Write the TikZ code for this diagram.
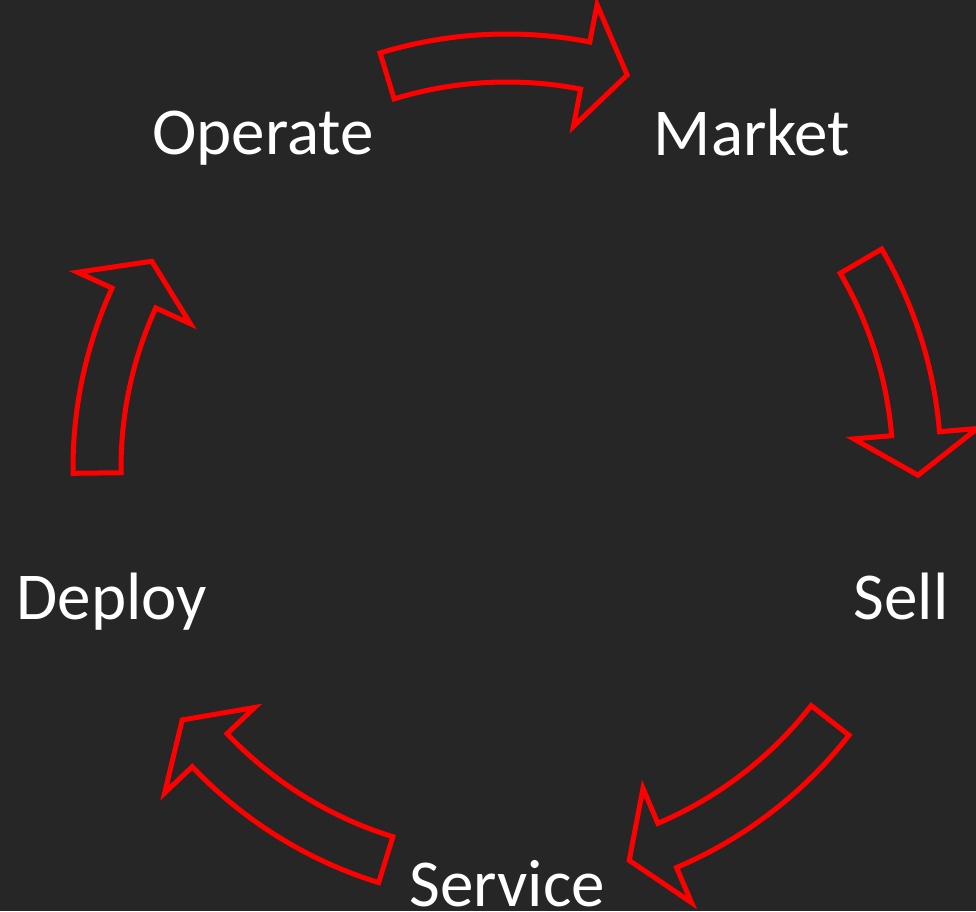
\documentclass[tikz,border=0pt]{standalone}
\usepackage{fontspec}
\setmainfont{Carlito}
\definecolor{bgcol}{HTML}{262626}
\definecolor{arrred}{HTML}{FF0000}
\tikzset{
  lbl/.style={text=white, anchor=base, inner sep=0pt, font=\fontsize{67}{80}\selectfont},
  cyclearrowline/.style={draw=arrred, line width=5pt, line join=miter},
}
% #1 tail angle, #2 head base angle, #3 tip angle
\newcommand\cyclearrow[3]{%
  \draw[cyclearrowline] (#1:434) arc[start angle=#1, end angle=#2, radius=434]
    -- (#2:472) -- (#3:411) -- (#2:348) -- (#2:386)
    arc[start angle=#2, end angle=#1, radius=386] -- cycle;}
\begin{document}
\begin{tikzpicture}[x=1pt,y=-1pt]
\fill[bgcol] (0,0) rectangle (976,911);
\useasboundingbox (0,0) rectangle (976,911);
\begin{scope}[shift={(507,468)}]
  \coordinate (center) at (0,0);
  \cyclearrow{-107}{-79}{-73}
  \cyclearrow{-30.3}{-4.8}{1}
  \cyclearrow{38}{67}{72.7}
  \cyclearrow{107.2}{136.5}{142.2}
  \cyclearrow{179.3}{204.5}{210.2}
\end{scope}
\node[lbl] (operate) at (263,154) {Operate};
\node[lbl] (market) at (752,155) {Market};
\node[lbl] (sell) at (901,619) {Sell};
\node[lbl] (service) at (507,906) {Service};
\node[lbl] (deploy) at (112,619) {Deploy};
\end{tikzpicture}
\end{document}
